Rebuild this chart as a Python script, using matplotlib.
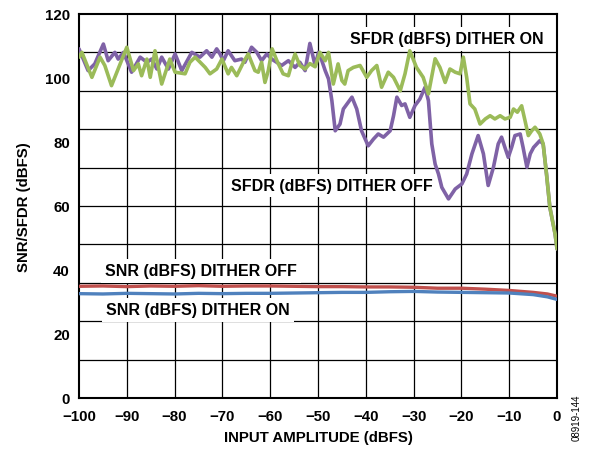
import numpy as np
import matplotlib.pyplot as plt

plt.rcParams['font.family'] = ['Liberation Sans', 'DejaVu Sans']
plt.rcParams['font.weight'] = 'bold'

# --- SFDR (dBFS), dither on (green) ---
sfdr_on_x = [-100, -99.4, -97.3, -95.6, -94.6, -93.2, -90.0, -88.6, -87.6, -86.9,
             -85.8, -85.1, -84.1, -82.7, -81.0, -79.9, -77.8, -76.8, -75.7, -73.6,
             -72.6, -71.2, -70.1, -68.8, -68.1, -67.0, -65.6, -64.6, -63.2, -62.5,
             -61.8, -61.1, -60.4, -59.6, -58.6, -57.3, -56.2, -55.5, -54.8, -53.8,
             -52.7, -51.7, -50.6, -49.6, -48.5, -47.8, -46.8, -45.8, -45.0, -44.4,
             -43.7, -42.6, -41.2, -39.8, -38.8, -37.7, -36.7, -35.3, -34.2, -32.8,
             -31.8, -30.8, -29.4, -28.0, -26.9, -25.5, -24.5, -23.4, -22.4, -21.3,
             -20.3, -19.6, -18.9, -18.2, -17.2, -16.1, -15.0, -14.0, -13.0, -11.9,
             -10.9, -9.8, -9.1, -8.3, -7.4, -6.7, -6.0, -5.3, -4.6, -3.6,
             -2.9, -2.2, -1.5, -0.4, 0.0]
sfdr_on_y = [106.5, 108.0, 100.2, 106.5, 103.9, 97.6, 109.6, 102.3, 104.4, 100.7,
             105.9, 100.2, 108.5, 98.1, 105.9, 101.8, 101.3, 104.9, 106.5, 103.3,
             101.3, 102.8, 105.9, 101.3, 103.3, 100.7, 104.9, 107.5, 102.3, 101.8,
             104.9, 98.6, 102.3, 109.1, 105.4, 101.3, 100.7, 104.4, 107.5, 103.9,
             102.8, 104.5, 103.5, 108.0, 105.4, 108.0, 98.1, 104.4, 99.2, 98.1,
             102.3, 103.3, 103.9, 100.2, 102.3, 103.9, 97.1, 101.8, 100.2, 96.0,
             101.3, 108.5, 103.3, 100.2, 95.0, 106.0, 103.3, 98.6, 102.8, 101.8,
             101.3, 106.5, 100.2, 91.9, 90.3, 85.6, 87.2, 88.2, 87.2, 88.2,
             87.2, 87.7, 90.3, 89.3, 91.3, 86.7, 82.0, 83.5, 84.6, 82.5,
             79.4, 70.0, 59.6, 51.2, 46.6]

# --- SFDR (dBFS), dither off (purple) ---
sfdr_off_x = [-100.0, -98.1, -96.7, -94.9, -93.9, -92.5, -91.8, -90.7, -89.0, -87.2,
              -85.8, -84.8, -83.7, -82.7, -81.3, -79.9, -78.5, -76.4, -74.7, -73.3,
              -72.2, -71.2, -70.5, -69.8, -68.8, -67.4, -66.0, -65.3, -63.9, -62.8,
              -61.8, -60.7, -59.7, -57.6, -56.2, -54.8, -53.8, -52.7, -51.7, -50.6,
              -49.9, -49.2, -48.5, -47.8, -47.1, -46.4, -45.4, -44.7, -42.9, -41.9,
              -40.9, -39.5, -38.4, -37.4, -36.3, -34.9, -34.2, -33.5, -32.5, -31.8,
              -30.8, -29.7, -28.7, -27.6, -26.9, -26.2, -25.5, -24.8, -24.1, -22.7,
              -21.3, -19.9, -18.9, -17.8, -16.5, -15.4, -14.4, -13.3, -12.3, -11.6,
              -10.9, -10.2, -9.5, -8.8, -7.7, -7.1, -6.3, -5.6, -4.9, -3.6,
              -2.9, -2.2, -1.5, -0.4, 0.0]
sfdr_off_y = [109.1, 102.3, 104.4, 110.6, 105.4, 108.0, 105.9, 108.0, 101.8, 106.5,
              104.9, 105.9, 102.8, 106.5, 102.8, 107.5, 102.3, 108.0, 106.5, 108.5,
              106.5, 109.1, 107.5, 105.4, 108.5, 105.4, 105.9, 104.9, 109.6, 108.0,
              105.4, 107.5, 105.9, 103.9, 105.4, 103.3, 104.9, 102.3, 110.8, 103.9,
              108.0, 105.4, 102.3, 99.7, 92.9, 83.5, 85.6, 90.3, 94.0, 90.3,
              83.5, 78.8, 80.9, 82.5, 81.5, 83.5, 88.2, 94.0, 91.4, 91.9,
              87.7, 91.4, 93.4, 97.1, 92.9, 79.4, 73.1, 70.0, 65.8, 62.2,
              65.3, 66.9, 70.0, 76.3, 82.0, 76.3, 66.4, 72.1, 79.4, 81.5,
              78.3, 75.2, 78.3, 82.0, 82.5, 78.3, 72.1, 76.3, 78.3, 80.4,
              79.4, 70.0, 59.6, 51.2, 46.6]

# --- SNR (dBFS) ---
snr_x = [-100, -95, -90, -85, -80, -75, -70, -65, -60, -55, -50, -45, -40, -35,
         -30, -25, -20, -15, -10, -5, -2, 0]
snr_off = [34.9, 35.0, 34.8, 35.0, 34.9, 35.1, 34.9, 35.0, 35.0, 34.9, 34.8, 34.8,
           34.7, 34.7, 34.6, 34.3, 34.3, 34.0, 33.6, 33.0, 32.5, 31.8]
snr_on = [32.6, 32.5, 32.7, 32.6, 32.5, 32.7, 32.6, 32.7, 32.7, 32.8, 32.9, 33.0,
          33.0, 33.2, 33.3, 33.1, 33.0, 32.9, 32.8, 32.3, 31.6, 30.8]

x_ticks = np.arange(-100, 1, 10)
y_ticks = np.arange(0, 121, 20)
x_grid = np.arange(-90, 0, 10)
y_grid = np.arange(12, 120, 12)

fig = plt.figure(figsize=(5.9, 4.52), dpi=100)
ax = fig.add_axes([0.1339, 0.1173, 0.8102, 0.8496])

for g in x_grid:
    ax.axvline(g, color='black', lw=0.9, zorder=1)
for g in y_grid:
    ax.axhline(g, color='black', lw=0.9, zorder=1)

ax.plot(snr_x, snr_off, color='#C0504D', lw=2.4, zorder=3)
ax.plot(snr_x, snr_on, color='#4F81BD', lw=2.4, zorder=3)
ax.plot(sfdr_off_x, sfdr_off_y, color='#7F62A6', lw=2.6, zorder=3,
        solid_joinstyle='round', solid_capstyle='round')
ax.plot(sfdr_on_x, sfdr_on_y, color='#9BBB59', lw=2.6, zorder=4,
        solid_joinstyle='round', solid_capstyle='round')

box = dict(facecolor='white', edgecolor='none', pad=3)
ax.text(-23, 112.2, 'SFDR (dBFS) DITHER ON', ha='center', va='center',
        fontsize=11.5, fontweight='bold', bbox=box, zorder=2)
ax.text(-47.1, 66.3, 'SFDR (dBFS) DITHER OFF', ha='center', va='center',
        fontsize=11.5, fontweight='bold', bbox=box, zorder=2)
ax.text(-74.5, 39.7, 'SNR (dBFS) DITHER OFF', ha='center', va='center',
        fontsize=11.5, fontweight='bold', bbox=box, zorder=2)
ax.text(-75.1, 27.5, 'SNR (dBFS) DITHER ON', ha='center', va='center',
        fontsize=11.5, fontweight='bold', bbox=box, zorder=2)

ax.set_xlim(-100, 0)
ax.set_ylim(0, 120)
ax.set_xticks(x_ticks)
ax.set_yticks(y_ticks)
ax.tick_params(length=0, labelsize=10.8)
ax.tick_params(axis='x', pad=8)
ax.tick_params(axis='y', pad=6.5)
for lab in ax.get_xticklabels() + ax.get_yticklabels():
    lab.set_fontweight('bold')
for s in ax.spines.values():
    s.set_linewidth(1.5)
    s.set_color('black')

ax.set_xlabel('INPUT AMPLITUDE (dBFS)', fontsize=10.8, fontweight='bold', labelpad=5)
ax.set_ylabel('SNR/SFDR (dBFS)', fontsize=10.8, fontweight='bold', labelpad=10)

fig.text(0.978, 0.075, '08919-144', rotation=90, fontsize=7, fontweight='normal',
         ha='center', va='center')

fig.savefig('out.png', dpi=100)
